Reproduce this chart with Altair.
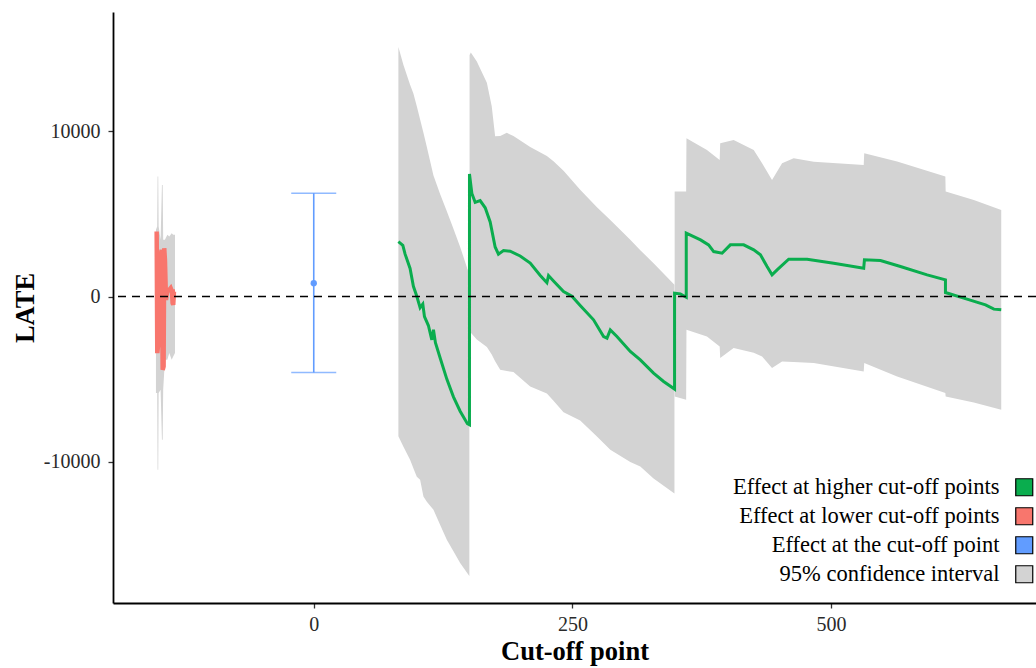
import altair as alt
import pandas as pd

# ---- LATE estimates at higher cut-off points (green line) ----
hi_x = [81.8, 86.1, 88.3, 93.1, 96.3, 99.6, 102.8, 105.4, 107.0, 110.8, 114.1, 115.7, 117.6,
        122.1, 128.6, 135.0, 141.5, 148.5, 150.5, 150.5, 152.8, 156.0, 160.8, 165.7, 170.5,
        175.3, 178.5, 183.4, 189.8, 199.5, 209.2, 218.9, 225.3, 226.9, 231.7, 241.4, 249.5,
        257.5, 270.4, 280.1, 283.4, 286.6, 293.0, 305.9, 315.6, 328.4, 338.1, 348.7, 348.7,
        354.3, 360.0, 360.0, 373.8, 381.6, 386.5, 394.6, 402.6, 415.5, 425.2, 431.7, 438.1,
        442.9, 447.8, 459.0, 476.8, 502.5, 531.5, 532.2, 547.7, 567.0, 592.8, 610.5, 610.5,
        628.2, 649.2, 657.3, 664.4]
hi_y = [3317, 3100, 2562, 1698, 622, 18, -677, -459, -1214, -1752, -2616, -2012, -2791,
        -3698, -4991, -6066, -6930, -7686, -7752, 7414, 6229, 5692, 5800, 5365, 4507,
        2997, 2562, 2779, 2737, 2453, 2024, 1269, 834, 1269, 943, 296, 18,
        -540, -1408, -2417, -2514, -2012, -2417, -3323, -3825, -4628, -5136, -5595, 205,
        161, -40, 3830, 3426, 3124, 2719, 2618, 3124, 3124, 2822, 2519, 1813,
        1311, 1613, 2260, 2260, 2018, 1716, 2217, 2175, 1813, 1311, 1009, 242,
        -97, -501, -761, -804]

# ---- LATE estimates at lower cut-off points (red line) ----
lo_x = [-151.8, -151.2, -149.9, -148.6, -147.0, -146.0, -145.1, -144.5, -143.8, -142.8,
        -141.6, -139.7, -138.3, -137.0, -136.4, -135.8, -135.1, -134.1]
lo_y = [3927, -3420, -2616, 2217, 2822, -4429, -4229, 2924, 2217, -199,
        302, 405, 508, 302, -399, -501, 302, 302]

# ---- estimate at the cut-off point (blue) ----
at_x = [0]
at_est = [810]
at_low = [-4592]
at_high = [6247]

# ---- 95% confidence bands, one list per contiguous stretch ----
ci_a_x = [81.8, 86.7, 93.1, 96.3, 99.6, 102.8, 106.0, 109.3, 115.7, 122.1, 128.6, 135.0, 141.5, 149.5, 150.4]
ci_a_hi = [15085, 14000, 12800, 12272, 11500, 10700, 9897, 9039, 7311, 6200, 5154, 4100, 2997, 1486, 1300]
ci_a_lo = [-8441, -9087, -9866, -10385, -10900, -11075, -12084, -12400, -12888, -13800, -14700, -15400, -16110, -16815, -16900]

ci_b_x = [150.6, 151.8, 157.6, 167.3, 172.0, 175.3, 180.2, 186.6, 193.0, 209.2, 225.3, 231.7, 241.4,
          257.5, 273.7, 286.6, 305.9, 315.6, 328.4, 348.6]
ci_b_hi = [14600, 14754, 14215, 12918, 11500, 9685, 9700, 9897, 9700, 9039, 8500, 8175, 7600,
           6450, 5400, 4634, 3426, 2800, 2018, 707]
ci_b_lo = [-2000, -2187, -2600, -3045, -3500, -3909, -4429, -4500, -4556, -5438, -5855, -6300, -7000,
           -7500, -8459, -9262, -10000, -10271, -11000, -11900]

ci_c_x = [348.8, 359.9, 360.2, 380.0, 392.3, 392.8, 405.8, 425.2, 433.3, 442.9, 452.6, 463.8, 483.2,
          531.5, 532.0, 563.8, 610.4, 610.7, 637.9, 664.4]
ci_c_hi = [6344, 6344, 9571, 8864, 8260, 9268, 9469, 8864, 8060, 7051, 8060, 8362, 8150,
           7957, 8664, 8157, 7250, 6344, 5843, 5238]
ci_c_lo = [-6042, -6241, -2012, -2417, -3021, -3722, -3118, -3400, -3625, -4326, -3927, -3950, -4024,
           -4532, -4024, -4834, -5837, -6040, -6400, -6845]

ci_d_x = [-152.5, -151.3, -150.9, -150.3, -149.9, -148.0, -146.7, -146.0, -145.5, -143.8,
          -141.5, -139.6, -137.3, -135.8, -134.1]
ci_d_hi = [4030, 4229, 7250, 7250, 4229, 3426, 6749, 6749, 3426, 3426, 3728, 3625, 3830, 3728, 3728]
ci_d_lo = [-5837, -5837, -10471, -10471, -5837, -5637, -8658, -8658, -5637, -3825, -3825, -3420,
           -3825, -3625, -3420]

reference = [0]

series_names = ["Effect at higher cut-off points", "Effect at lower cut-off points",
                "Effect at the cut-off point", "95% confidence interval"]
series_colors = ["#0AAD4E", "#F8766D", "#619CFF", "#D3D3D3"]

FONT = "Liberation Serif"

band_parts = []
for seg, (xs_, hs_, ls_) in enumerate([(ci_a_x, ci_a_hi, ci_a_lo), (ci_b_x, ci_b_hi, ci_b_lo),
                                        (ci_c_x, ci_c_hi, ci_c_lo), (ci_d_x, ci_d_hi, ci_d_lo)]):
    band_parts.append(pd.DataFrame({"x": xs_, "upper": hs_, "lower": ls_, "seg": seg,
                                    "series": series_names[3]}))
band = pd.concat(band_parts, ignore_index=True)

higher = pd.DataFrame({"x": hi_x, "y": hi_y, "i": range(len(hi_x))})
lower = pd.DataFrame({"x": lo_x, "y": lo_y, "i": range(len(lo_x))})
at_cut = pd.DataFrame({"x": at_x, "y": at_est, "low": at_low, "high": at_high})
zero = pd.DataFrame({"y": reference})

# plain hyphen for negative tick labels
HYPHEN = "replace(format(datum.value, 'd'), '\u2212', '-')"

x_scale = alt.Scale(domain=[-194, 698], nice=False, zero=False)
y_scale = alt.Scale(domain=[-18525, 17200], nice=False, zero=False)
x_axis = alt.Axis(values=[0, 250, 500], labelExpr=HYPHEN, title="Cut-off point")
y_axis = alt.Axis(values=[-10000, 0, 10000], labelExpr=HYPHEN, title="LATE")

X = alt.X("x:Q", scale=x_scale, axis=x_axis)

# labels sit to the left of their swatches
ci = alt.Chart(band).mark_area(opacity=1, interpolate="linear").encode(
    x=X,
    y=alt.Y("lower:Q", scale=y_scale, axis=y_axis),
    y2="upper:Q",
    detail="seg:N",
    color=alt.Color("series:N",
                    scale=alt.Scale(domain=series_names, range=series_colors),
                    legend=alt.Legend(title=None, orient="none", legendX=900, legendY=464,
                                      symbolType="square", symbolSize=289,
                                      symbolStrokeColor="black", symbolStrokeWidth=1.2,
                                      symbolOpacity=1,
                                      labelAlign="right", labelOffset={"expr": "-36"},
                                      labelFont=FONT, labelFontSize=22.5, labelColor="black",
                                      labelLimit=400, rowPadding=6, padding=0)),
)

green = alt.Chart(higher).mark_line(strokeWidth=3, color=series_colors[0]).encode(
    x=X, y=alt.Y("y:Q", scale=y_scale, axis=y_axis), order="i:Q")

red = alt.Chart(lower).mark_line(strokeWidth=4.5, color=series_colors[1]).encode(
    x=X, y=alt.Y("y:Q", scale=y_scale, axis=y_axis), order="i:Q")

blue_bar = alt.Chart(at_cut).mark_rule(strokeWidth=1.6, color=series_colors[2]).encode(
    x=X, y=alt.Y("low:Q", scale=y_scale, axis=y_axis), y2="high:Q")
blue_cap_lo = alt.Chart(at_cut).mark_tick(orient="horizontal", size=45, thickness=1.6,
                                          color=series_colors[2]).encode(
    x=X, y=alt.Y("low:Q", scale=y_scale, axis=y_axis))
blue_cap_hi = alt.Chart(at_cut).mark_tick(orient="horizontal", size=45, thickness=1.6,
                                          color=series_colors[2]).encode(
    x=X, y=alt.Y("high:Q", scale=y_scale, axis=y_axis))
blue_pt = alt.Chart(at_cut).mark_circle(size=40, opacity=1, color=series_colors[2]).encode(
    x=X, y=alt.Y("y:Q", scale=y_scale, axis=y_axis))

zero_line = alt.Chart(zero).mark_rule(color="black", strokeWidth=1.6, strokeDash=[8, 6]).encode(
    y=alt.Y("y:Q", scale=y_scale, axis=y_axis))

chart = alt.layer(ci, green, red, blue_bar, blue_cap_lo, blue_cap_hi, blue_pt, zero_line).properties(
    width=923, height=591,
    autosize=alt.AutoSizeParams(type="none"),
    padding={"left": 113, "top": 12, "right": 0, "bottom": 65},
).configure_view(stroke=None).configure_axis(
    grid=False,
    domainColor="black", domainWidth=1.8,
    tickColor="#333333", tickWidth=1.3, tickSize=5,
    labelFont=FONT, labelFontSize=20, labelColor="#2a2a2a",
    titleFont=FONT, titleFontSize=26.5, titleFontWeight="bold", titleColor="black",
).configure_axisX(titlePadding=4, labelPadding=6).configure_axisY(titlePadding=4, labelPadding=8)

chart.save("out.html", embed_options={"renderer": "svg", "actions": False})
